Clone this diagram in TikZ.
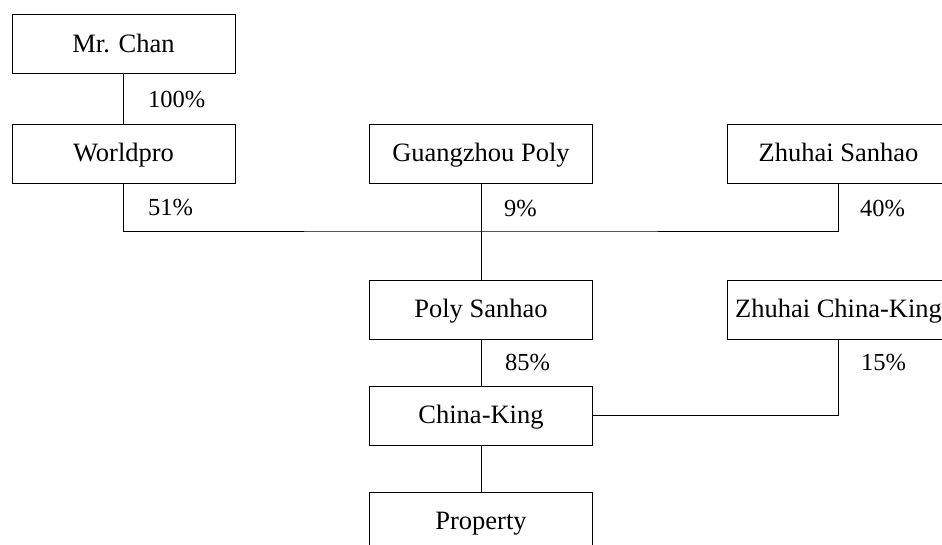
\documentclass[tikz,border=0pt]{standalone}
\usepackage{fontspec}
\setmainfont{Liberation Serif}
\begin{document}
\begin{tikzpicture}[x=1pt,y=-1pt,
  box/.style={draw, line width=0.9pt, minimum width=223pt, minimum height=59pt, inner sep=0pt, text height=17pt, text depth=1pt, font=\fontsize{26.5}{30}\selectfont},
  pct/.style={anchor=base west, inner sep=0pt, font=\fontsize{24.5}{28}\selectfont},
  conn/.style={line width=0.9pt}]
\useasboundingbox (0,0) rectangle (942,544);
\clip (0,0) rectangle (942,544);
\node[box] (chan) at (123.5,44) {Mr. Chan};
\node[box] (wp) at (123.5,153.5) {Worldpro};
\node[box] (gp) at (481,153.5) {Guangzhou Poly};
\node[box] (zs) at (838.5,153.5) {Zhuhai Sanhao};
\node[box] (ps) at (481,309.5) {Poly Sanhao};
\node[box] (zck) at (838.5,309.5) {Zhuhai China-King};
\node[box] (ck) at (481,415.5) {China-King};
\node[box] (prop) at (481,521.5) {Property};
\coordinate (j) at (481,231);
\draw[conn] (chan.south) -- (wp.north);
\draw[conn] (wp.south) |- (j) -| (zs.south);
\draw[conn] (gp.south) -- (ps.north);
\draw[conn] (ps.south) -- (ck.north);
\draw[conn] (zck.south) |- (ck.east);
\draw[conn] (ck.south) -- (prop.north);
\node[pct] (l1) at (148,107) {100\%};
\node[pct] (l2) at (148,215) {51\%};
\node[pct] (l3) at (504,216) {9\%};
\node[pct] (l4) at (860,216) {40\%};
\node[pct] (l5) at (505,370) {85\%};
\node[pct] (l6) at (861,370) {15\%};
\end{tikzpicture}
\end{document}
